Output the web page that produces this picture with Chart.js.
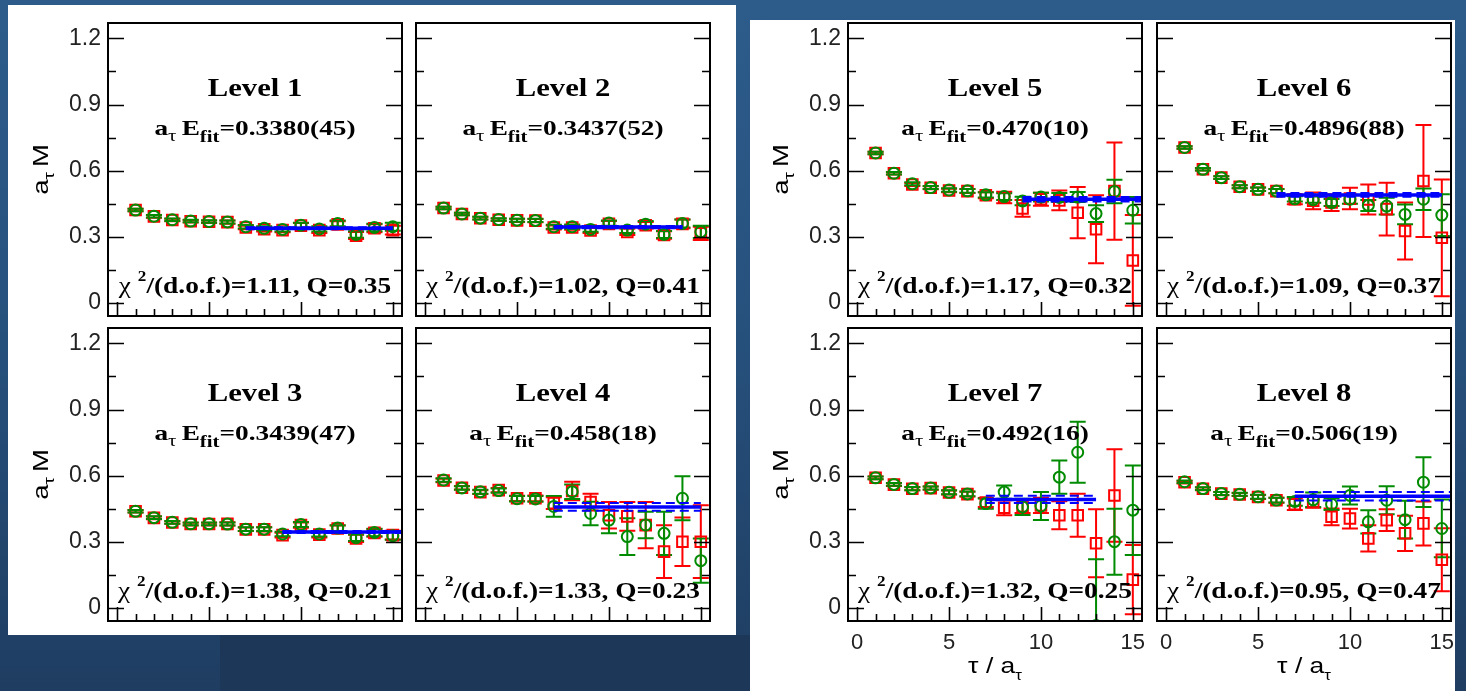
<!DOCTYPE html>
<html>
<head>
<meta charset="utf-8">
<script src="https://cdn.jsdelivr.net/npm/chart.js@4.4.1/dist/chart.umd.min.js"></script>
<style>
html, body { margin: 0; padding: 0; }
body {
    width: 1466px; height: 691px; overflow: hidden; position: relative;
    background: linear-gradient(180deg, #2d5c8b 0%, #26507c 50%, #1f3d61 100%);
}
.sheet { position: absolute; background: #fff; }
canvas { position: absolute; }
</style>
</head>
<body>
<div class="sheet" style="left:220px;top:635px;width:530px;height:56px;background:#1c3757"></div>
<div class="sheet" style="left:8px;top:5px;width:728px;height:630px"></div>
<div class="sheet" style="left:750px;top:20px;width:705px;height:671px"></div>

<script>
// --- data ---
const tau = [1, 2, 3, 4, 5, 6, 7, 8, 9, 10, 11, 12, 13, 14, 15];
const yTicks = [0, 0.3, 0.6, 0.9, 1.2];
const yTickLabels = ['0', '0.3', '0.6', '0.9', '1.2'];
const yMinor = [0.15, 0.45, 0.75, 1.05];
const xTicks = [0, 5, 10, 15];
const xTickLabels = ['0', '5', '10', '15'];
const xMinor = [1, 2, 3, 4, 6, 7, 8, 9, 11, 12, 13, 14];

const levelNames = ['Level 1', 'Level 2', 'Level 3', 'Level 4', 'Level 5', 'Level 6', 'Level 7', 'Level 8'];
const fitE = [0.3380, 0.3437, 0.3439, 0.458, 0.470, 0.4896, 0.492, 0.506];
const fitErr = [0.0045, 0.0052, 0.0047, 0.018, 0.010, 0.0088, 0.016, 0.019];
const fitText = ['0.3380(45)', '0.3437(52)', '0.3439(47)', '0.458(18)', '0.470(10)', '0.4896(88)', '0.492(16)', '0.506(19)'];
const fitFrom = [7, 7, 9, 7, 9, 6, 7, 7];
const fitTo = [15, 14, 15.5, 15, 15.5, 15, 13, 15.5];
const chi2 = ['1.11', '1.02', '1.38', '1.33', '1.17', '1.09', '1.32', '0.95'];
const qVal = ['0.35', '0.41', '0.21', '0.23', '0.32', '0.37', '0.25', '0.47'];

// red squares
const redM = [
    [0.421, 0.392, 0.376, 0.370, 0.368, 0.366, 0.342, 0.334, 0.330, 0.350, 0.330, 0.356, 0.305, 0.338, 0.330],
    [0.430, 0.403, 0.384, 0.377, 0.374, 0.373, 0.342, 0.342, 0.328, 0.358, 0.322, 0.352, 0.308, 0.358, 0.315],
    [0.438, 0.408, 0.387, 0.380, 0.380, 0.381, 0.356, 0.356, 0.330, 0.375, 0.332, 0.360, 0.315, 0.340, 0.330],
    [0.578, 0.545, 0.525, 0.534, 0.497, 0.497, 0.475, 0.530, 0.480, 0.420, 0.415, 0.375, 0.255, 0.300, 0.300],
    [0.680, 0.588, 0.537, 0.522, 0.510, 0.507, 0.488, 0.478, 0.428, 0.470, 0.465, 0.409, 0.334, 0.507, 0.192],
    [0.705, 0.606, 0.568, 0.527, 0.515, 0.507, 0.470, 0.463, 0.455, 0.473, 0.469, 0.425, 0.326, 0.553, 0.295],
    [0.590, 0.559, 0.540, 0.543, 0.523, 0.516, 0.478, 0.454, 0.460, 0.465, 0.420, 0.420, 0.293, 0.510, 0.128],
    [0.570, 0.540, 0.518, 0.514, 0.503, 0.488, 0.470, 0.480, 0.413, 0.405, 0.315, 0.398, 0.338, 0.383, 0.218]
];
const redErr = [
    [0.006, 0.006, 0.006, 0.006, 0.006, 0.007, 0.008, 0.010, 0.010, 0.012, 0.013, 0.014, 0.016, 0.018, 0.020],
    [0.006, 0.006, 0.006, 0.006, 0.007, 0.007, 0.009, 0.010, 0.011, 0.013, 0.014, 0.015, 0.017, 0.020, 0.030],
    [0.006, 0.006, 0.006, 0.006, 0.006, 0.007, 0.008, 0.010, 0.011, 0.012, 0.013, 0.014, 0.016, 0.018, 0.020],
    [0.008, 0.008, 0.009, 0.010, 0.012, 0.013, 0.027, 0.042, 0.038, 0.060, 0.065, 0.105, 0.120, 0.110, 0.165],
    [0.006, 0.006, 0.007, 0.007, 0.008, 0.009, 0.014, 0.026, 0.038, 0.030, 0.045, 0.116, 0.154, 0.221, 0.206],
    [0.006, 0.006, 0.006, 0.007, 0.008, 0.010, 0.023, 0.038, 0.038, 0.049, 0.068, 0.120, 0.129, 0.254, 0.265],
    [0.006, 0.006, 0.007, 0.007, 0.009, 0.011, 0.020, 0.034, 0.030, 0.035, 0.064, 0.098, 0.154, 0.210, 0.157],
    [0.006, 0.006, 0.007, 0.007, 0.009, 0.011, 0.026, 0.026, 0.038, 0.045, 0.060, 0.049, 0.080, 0.100, 0.143]
];
// green circles
const grnM = [
    [0.421, 0.393, 0.377, 0.371, 0.369, 0.367, 0.345, 0.338, 0.333, 0.352, 0.335, 0.360, 0.310, 0.342, 0.345],
    [0.430, 0.403, 0.384, 0.378, 0.375, 0.374, 0.345, 0.345, 0.333, 0.362, 0.330, 0.357, 0.310, 0.360, 0.322],
    [0.438, 0.409, 0.388, 0.381, 0.381, 0.380, 0.357, 0.357, 0.335, 0.378, 0.335, 0.362, 0.318, 0.342, 0.327],
    [0.580, 0.544, 0.527, 0.532, 0.495, 0.494, 0.460, 0.527, 0.428, 0.398, 0.323, 0.376, 0.338, 0.497, 0.214],
    [0.680, 0.588, 0.540, 0.523, 0.512, 0.508, 0.490, 0.482, 0.462, 0.480, 0.478, 0.480, 0.405, 0.505, 0.420],
    [0.705, 0.606, 0.568, 0.527, 0.515, 0.507, 0.472, 0.468, 0.455, 0.470, 0.442, 0.439, 0.401, 0.470, 0.398],
    [0.590, 0.560, 0.541, 0.544, 0.524, 0.517, 0.473, 0.525, 0.458, 0.462, 0.593, 0.706, -0.080, 0.300, 0.443],
    [0.572, 0.541, 0.519, 0.515, 0.504, 0.489, 0.483, 0.490, 0.470, 0.510, 0.390, 0.488, 0.400, 0.570, 0.360]
];
const grnErr = [
    [0.006, 0.006, 0.006, 0.006, 0.006, 0.007, 0.008, 0.009, 0.010, 0.011, 0.012, 0.013, 0.015, 0.017, 0.018],
    [0.006, 0.006, 0.006, 0.006, 0.007, 0.007, 0.009, 0.010, 0.011, 0.012, 0.013, 0.014, 0.016, 0.018, 0.028],
    [0.006, 0.006, 0.006, 0.006, 0.006, 0.007, 0.008, 0.009, 0.010, 0.011, 0.012, 0.013, 0.015, 0.017, 0.018],
    [0.008, 0.008, 0.009, 0.010, 0.012, 0.013, 0.047, 0.033, 0.053, 0.060, 0.083, 0.060, 0.098, 0.100, 0.100],
    [0.006, 0.006, 0.007, 0.007, 0.008, 0.009, 0.012, 0.015, 0.019, 0.020, 0.020, 0.023, 0.038, 0.053, 0.060],
    [0.006, 0.006, 0.006, 0.007, 0.008, 0.010, 0.012, 0.014, 0.016, 0.020, 0.025, 0.038, 0.045, 0.049, 0.095],
    [0.006, 0.006, 0.007, 0.007, 0.009, 0.011, 0.023, 0.030, 0.037, 0.064, 0.075, 0.139, 0.300, 0.150, 0.203],
    [0.006, 0.006, 0.007, 0.007, 0.009, 0.011, 0.020, 0.033, 0.026, 0.041, 0.053, 0.064, 0.086, 0.113, 0.131]
];

// --- layout (panel frames in page pixels) ---
const PW = 294, PH = 293;
const panels = [
    { x: 108, y: 23, yAxis: true, xAxis: false },
    { x: 416, y: 23, yAxis: false, xAxis: false },
    { x: 108, y: 328, yAxis: true, xAxis: false },
    { x: 416, y: 328, yAxis: false, xAxis: false },
    { x: 848, y: 23, yAxis: true, xAxis: false },
    { x: 1157, y: 23, yAxis: false, xAxis: false },
    { x: 848, y: 328, yAxis: true, xAxis: true },
    { x: 1157, y: 328, yAxis: false, xAxis: true }
];

const RED = '#ff0000', GREEN = '#008b00', BLUE = '#0000ff';
const SERIF = "'Liberation Serif', 'Times New Roman', serif";
const SANS = "'Liberation Sans', Arial, sans-serif";

// draw text runs (sub/superscripts) centred on cx, with a horizontal stretch
function drawRich(ctx, parts, cx, baseY, sx) {
    let w = 0;
    parts.forEach(p => { ctx.font = p.font; p.w = ctx.measureText(p.t).width + (p.gap || 0); w += p.w; });
    ctx.save();
    ctx.translate(cx, baseY);
    ctx.scale(sx, 1);
    ctx.textAlign = 'left';
    ctx.textBaseline = 'alphabetic';
    ctx.fillStyle = '#000';
    let xx = -w / 2;
    parts.forEach(p => { ctx.font = p.font; ctx.fillText(p.t, xx, p.dy || 0); xx += p.w; });
    ctx.restore();
}

// error bars, drawn under the markers
const errorBars = {
    id: 'errorBars',
    beforeDatasetsDraw(chart) {
        const { ctx, chartArea: a, scales: { x, y } } = chart;
        ctx.save();
        ctx.beginPath();
        ctx.rect(a.left, a.top, a.width, a.height);
        ctx.clip();
        ctx.lineWidth = 2;
        const sets = chart.data.datasets.filter(d => d.err).reverse();
        sets.forEach(ds => {
            ctx.strokeStyle = ds.borderColor;
            ds.data.forEach((p, k) => {
                const px = x.getPixelForValue(p.x);
                const lo = y.getPixelForValue(p.y - ds.err[k]);
                const hi = y.getPixelForValue(p.y + ds.err[k]);
                const cap = 8;
                ctx.beginPath();
                ctx.moveTo(px, lo); ctx.lineTo(px, hi);
                ctx.moveTo(px - cap, lo); ctx.lineTo(px + cap, lo);
                ctx.moveTo(px - cap, hi); ctx.lineTo(px + cap, hi);
                ctx.stroke();
            });
        });
        ctx.restore();
    }
};

// frame, inward ticks and the panel texts
const panelDeco = {
    id: 'panelDeco',
    afterDraw(chart, args, opts) {
        const { ctx, chartArea: a, scales: { x, y } } = chart;
        const i = opts.idx;
        ctx.save();
        ctx.strokeStyle = '#000';
        ctx.lineWidth = 1.6;
        ctx.beginPath();
        yTicks.forEach(v => {
            const py = Math.round(y.getPixelForValue(v)) + 0.5;
            ctx.moveTo(a.left, py); ctx.lineTo(a.left + 16, py);
            ctx.moveTo(a.right, py); ctx.lineTo(a.right - 16, py);
        });
        yMinor.forEach(v => {
            const py = Math.round(y.getPixelForValue(v)) + 0.5;
            ctx.moveTo(a.left, py); ctx.lineTo(a.left + 8, py);
            ctx.moveTo(a.right, py); ctx.lineTo(a.right - 8, py);
        });
        xTicks.forEach(v => {
            const px = Math.round(x.getPixelForValue(v)) + 0.5;
            ctx.moveTo(px, a.bottom); ctx.lineTo(px, a.bottom - 14);
        });
        xMinor.forEach(v => {
            const px = Math.round(x.getPixelForValue(v)) + 0.5;
            ctx.moveTo(px, a.bottom); ctx.lineTo(px, a.bottom - 7);
        });
        ctx.stroke();
        ctx.lineWidth = 2;
        ctx.strokeRect(a.left, a.top, a.width, a.height);
        ctx.restore();

        const cx = (a.left + a.right) / 2;
        drawRich(ctx, [{ t: levelNames[i], font: `bold 26px ${SERIF}` }], cx, a.top + 73, 1.18);
        drawRich(ctx, [
            { t: 'a', font: `bold 21px ${SERIF}` },
            { t: 'τ', font: `16px ${SERIF}`, dy: 6, gap: 4 },
            { t: 'E', font: `bold 21px ${SERIF}` },
            { t: 'fit', font: `bold 16px ${SERIF}`, dy: 7 },
            { t: '=' + fitText[i], font: `bold 21px ${SERIF}` }
        ], cx, a.top + 112, 1.3);
        drawRich(ctx, [
            { t: 'χ', font: `24px ${SERIF}`, gap: 6 },
            { t: '2', font: `bold 15px ${SERIF}`, dy: -12 },
            { t: `/(d.o.f.)=${chi2[i]}, Q=${qVal[i]}`, font: `bold 24px ${SERIF}` }
        ], cx, a.top + 270, 1.14);

        if (opts.yTitle) {
            ctx.save();
            ctx.translate(a.left - 68, (a.top + a.bottom) / 2);
            ctx.rotate(-Math.PI / 2);
            drawRich(ctx, [
                { t: 'a', font: `22px ${SANS}` },
                { t: 'τ', font: `15px ${SANS}`, dy: 6, gap: 4 },
                { t: 'M', font: `22px ${SANS}` }
            ], 0, 8, 1.25);
            ctx.restore();
        }
        if (opts.xTitle) {
            drawRich(ctx, [
                { t: 'τ / a', font: `22px ${SANS}` },
                { t: 'τ', font: `14px ${SANS}`, dy: 7 }
            ], cx, a.bottom + 52, 1.2);
        }
    }
};

function makePanel(i) {
    const box = panels[i];
    const left = box.yAxis ? 80 : 4;
    const right = box.xAxis ? 12 : 4;
    const bottom = box.xAxis ? 68 : 4;
    const cv = document.createElement('canvas');
    cv.width = PW + left + right;
    cv.height = PH + 4 + bottom;
    cv.style.left = (box.x - left) + 'px';
    cv.style.top = (box.y - 4) + 'px';
    document.body.appendChild(cv);

    const pts = vals => tau.map((t, k) => ({ x: t, y: vals[k] }));
    const fitLine = v => [{ x: fitFrom[i], y: v }, { x: fitTo[i], y: v }];
    const lineDs = (v, w, dash) => ({
        data: fitLine(v), showLine: true, borderColor: BLUE, borderWidth: w,
        borderDash: dash, pointRadius: 0, clip: 0
    });

    new Chart(cv.getContext('2d'), {
        type: 'scatter',
        data: {
            datasets: [
                lineDs(fitE[i], 3.5, []),
                lineDs(fitE[i] + fitErr[i], 2, [9, 5]),
                lineDs(fitE[i] - fitErr[i], 2, [9, 5]),
                {
                    data: pts(grnM[i]), err: grnErr[i], pointStyle: 'circle', pointRadius: 5.5,
                    borderColor: GREEN, backgroundColor: 'rgba(0,0,0,0)', borderWidth: 2, clip: 0
                },
                {
                    data: pts(redM[i]), err: redErr[i], pointStyle: 'rect', pointRadius: 7.5,
                    borderColor: RED, backgroundColor: 'rgba(0,0,0,0)', borderWidth: 2, clip: 0
                }
            ]
        },
        options: {
            responsive: false,
            animation: false,
            events: [],
            layout: {
                autoPadding: false,
                padding: { left: box.yAxis ? 0 : 4, right: right, top: 4, bottom: box.xAxis ? 0 : 4 }
            },
            plugins: {
                legend: { display: false },
                tooltip: { enabled: false },
                panelDeco: { idx: i, yTitle: box.yAxis, xTitle: box.xAxis }
            },
            scales: {
                x: {
                    type: 'linear', min: -0.5, max: 15.5, display: box.xAxis,
                    grid: { display: false, drawTicks: false }, border: { display: false },
                    afterBuildTicks: s => { s.ticks = xTicks.map(v => ({ value: v })); },
                    ticks: {
                        padding: 9, color: '#222', maxRotation: 0, autoSkip: false,
                        font: { family: SANS, size: 22 },
                        callback: (v, k) => xTickLabels[k]
                    },
                    afterFit: s => {
                        s.height = box.xAxis ? 68 : 0;
                        s.paddingLeft = 0; s.paddingRight = 0;
                    }
                },
                y: {
                    type: 'linear', min: -0.06, max: 1.27, display: box.yAxis,
                    grid: { display: false, drawTicks: false }, border: { display: false },
                    afterBuildTicks: s => { s.ticks = yTicks.map(v => ({ value: v })); },
                    ticks: {
                        padding: 7, color: '#222', autoSkip: false,
                        font: { family: SANS, size: 23 },
                        callback: (v, k) => yTickLabels[k]
                    },
                    afterFit: s => {
                        s.width = box.yAxis ? 80 : 0;
                        s.paddingTop = 0; s.paddingBottom = 0;
                    }
                }
            }
        },
        plugins: [errorBars, panelDeco]
    });
}

panels.forEach((p, i) => makePanel(i));
</script>
</body>
</html>
